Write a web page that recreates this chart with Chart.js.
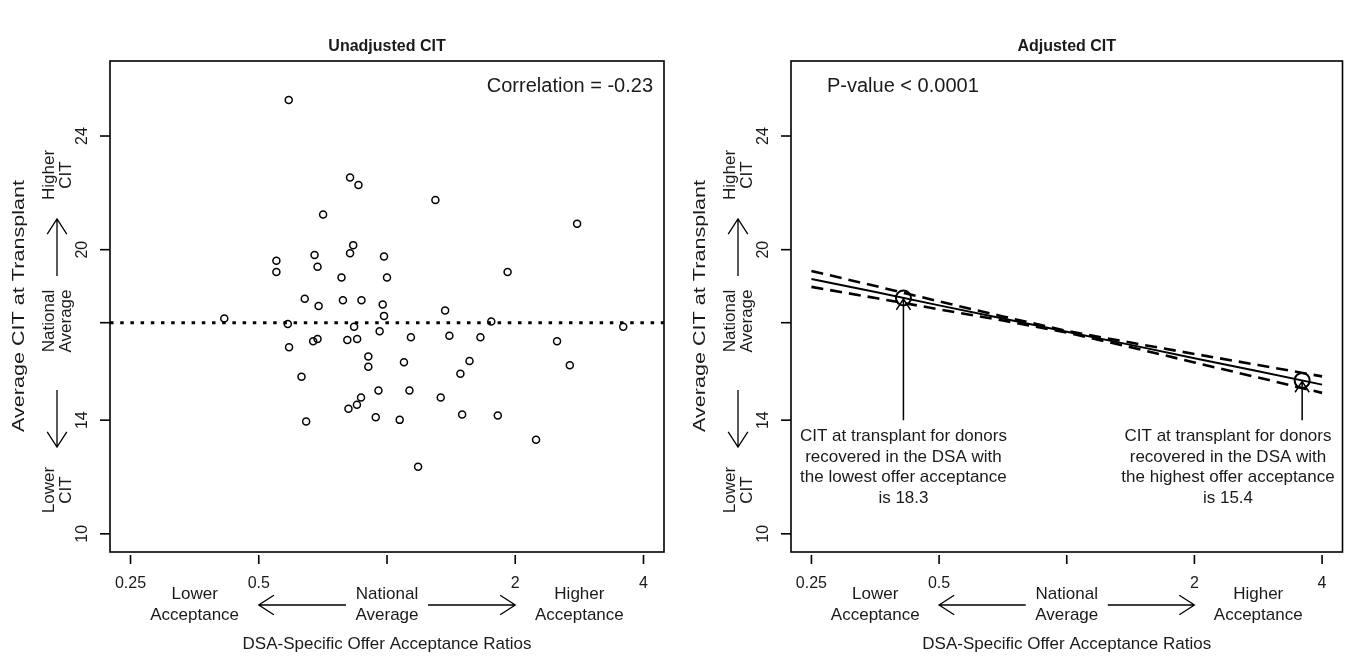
<!DOCTYPE html>
<html>
<head>
<meta charset="utf-8">
<script src="https://cdn.jsdelivr.net/npm/chart.js@4.4.1/dist/chart.umd.min.js"></script>
<style>
  html, body { margin: 0; padding: 0; background: #fff; }
  #wrap { position: relative; width: 1352px; height: 658px; overflow: hidden; }
  canvas { position: absolute; top: 0; }
  #left { left: 0; }
  #right { left: 681px; }
</style>
</head>
<body>
<div id="wrap">
  <canvas id="left" width="676" height="658"></canvas>
  <canvas id="right" width="671" height="658"></canvas>
</div>
<script>
// axis setup (R style: 4% padding around xlim 0.25-4 and ylim 10-26)
const xTicks = [0.25, 0.5, 1, 2, 4];
const xTickLabels = ['0.25', '0.5', '', '2', '4'];
const yTicks = [10, 14, 17.43, 20, 24];
const yTickLabels = ['10', '14', '', '20', '24'];
const xMin = Math.pow(2, -2.16), xMax = Math.pow(2, 2.16);
const yMin = 9.36, yMax = 26.64;
const nationalAvg = 17.43;

// unadjusted CIT per DSA
const ratioUnadj = [0.588, 0.819, 0.857, 1.299, 0.708, 2.794, 0.833, 0.819, 0.676, 0.984, 0.550, 0.687,
  0.550, 1.919, 0.782, 1.000, 0.641, 0.788, 0.871, 0.691, 0.977, 0.984, 1.369, 0.415,
  0.585, 0.837, 1.757, 3.585, 0.961, 0.671, 0.687, 0.807, 0.851, 1.138, 1.401, 1.657,
  0.589, 2.507, 0.904, 0.904, 1.096, 1.562, 1.487, 2.686, 0.630, 0.955, 1.129, 0.869,
  1.337, 0.850, 0.812, 1.501, 1.820, 0.941, 1.071, 0.646, 2.238, 1.183];
const citUnadj = [25.27, 22.54, 22.28, 21.75, 21.24, 20.91, 20.16, 19.87, 19.81, 19.76, 19.61, 19.40,
  19.21, 19.21, 19.02, 19.02, 18.27, 18.22, 18.22, 18.02, 18.07, 17.67, 17.86, 17.58,
  17.38, 17.29, 17.47, 17.29, 17.13, 16.78, 16.86, 16.82, 16.86, 16.92, 16.97, 16.92,
  16.57, 16.78, 16.24, 15.88, 16.04, 16.08, 15.63, 15.93, 15.53, 15.04, 15.04, 14.80,
  14.80, 14.54, 14.40, 14.20, 14.16, 14.10, 14.01, 13.95, 13.31, 12.36];

// adjusted CIT fit with confidence band
const fitRatio = [0.25, 0.354, 0.5, 0.707, 1, 1.414, 2, 2.828, 4];
const fitCit = [18.97, 18.51, 18.04, 17.58, 17.11, 16.65, 16.18, 15.72, 15.25];
const fitUpper = [19.25, 18.72, 18.18, 17.65, 17.14, 16.73, 16.33, 15.94, 15.54];
const fitLower = [18.69, 18.30, 17.90, 17.51, 17.08, 16.57, 16.03, 15.50, 14.96];

const extremeRatio = [0.412, 3.59];
const extremeCit = [18.3, 15.4];
const noteRatio = [0.412, 2.40];
const extremeNotes = [
  ['CIT at transplant for donors', 'recovered in the DSA with', 'the lowest offer acceptance', 'is 18.3'],
  ['CIT at transplant for donors', 'recovered in the DSA with', 'the highest offer acceptance', 'is 15.4']
];
const arrowFromCit = 14;
const noteTopCit = 13.42;

const FONT = "'Liberation Sans', Arial, Helvetica, sans-serif";
const INK = '#1a1a1a';

function pairs(xs, ys) {
  return xs.map((x, i) => ({ x: x, y: ys[i] }));
}

function arrow(ctx, x0, y0, x1, y1, len, ang) {
  const t = Math.atan2(y1 - y0, x1 - x0);
  ctx.beginPath();
  ctx.moveTo(x0, y0);
  ctx.lineTo(x1, y1);
  ctx.moveTo(x1 - len * Math.cos(t - ang), y1 - len * Math.sin(t - ang));
  ctx.lineTo(x1, y1);
  ctx.lineTo(x1 - len * Math.cos(t + ang), y1 - len * Math.sin(t + ang));
  ctx.stroke();
}

function text(ctx, s, x, y, font, align) {
  ctx.font = font;
  ctx.textAlign = align || 'center';
  ctx.textBaseline = 'middle';
  ctx.fillText(s, x, y);
}

// rotated text, optionally stretched along its length
function vText(ctx, s, x, y, font, stretch) {
  ctx.save();
  ctx.translate(x, y);
  ctx.rotate(-Math.PI / 2);
  if (stretch) ctx.scale(stretch, 1);
  text(ctx, s, 0, 0, font);
  ctx.restore();
}

function decor(panel) {
  return {
    id: 'decor',
    afterDraw(chart) {
      const ctx = chart.ctx, a = chart.chartArea;
      const xs = chart.scales.x, ys = chart.scales.y;
      const f16 = '16px ' + FONT, f17 = '17px ' + FONT;
      const ah = 33 * Math.PI / 180;
      ctx.save();
      ctx.strokeStyle = '#000';
      ctx.fillStyle = INK;
      ctx.lineWidth = 1.6;
      ctx.strokeRect(a.left, a.top, a.right - a.left, a.bottom - a.top);

      text(ctx, panel.title, (a.left + a.right) / 2, 47, 'bold 16px ' + FONT);

      // x axis ticks and labels
      xTicks.forEach((v, i) => {
        const px = xs.getPixelForValue(v);
        ctx.beginPath();
        ctx.moveTo(px, a.bottom + 3);
        ctx.lineTo(px, a.bottom + 12);
        ctx.stroke();
        if (xTickLabels[i]) text(ctx, xTickLabels[i], px, a.bottom + 32, f16);
      });
      // y axis ticks and labels
      yTicks.forEach((v, i) => {
        const py = ys.getPixelForValue(v);
        ctx.beginPath();
        ctx.moveTo(a.left - 10, py);
        ctx.lineTo(a.left, py);
        ctx.stroke();
        if (yTickLabels[i]) vText(ctx, yTickLabels[i], a.left - 27, py, f16);
      });

      // x margin annotations
      ctx.lineWidth = 1.3;
      const p05 = xs.getPixelForValue(0.5), p1 = xs.getPixelForValue(1), p2 = xs.getPixelForValue(2);
      const lowX = (xs.getPixelForValue(0.25) + p05) / 2;
      const highX = (p2 + xs.getPixelForValue(4)) / 2;
      text(ctx, 'Lower', lowX, a.bottom + 42, f17);
      text(ctx, 'Acceptance', lowX, a.bottom + 63, f17);
      text(ctx, 'National', p1, a.bottom + 42, f17);
      text(ctx, 'Average', p1, a.bottom + 63, f17);
      text(ctx, 'Higher', highX, a.bottom + 42, f17);
      text(ctx, 'Acceptance', highX, a.bottom + 63, f17);
      arrow(ctx, p1 - 41, a.bottom + 53, p05, a.bottom + 53, 18, ah);
      arrow(ctx, p1 + 41, a.bottom + 53, p2, a.bottom + 53, 18, ah);
      text(ctx, 'DSA-Specific Offer Acceptance Ratios', (a.left + a.right) / 2, a.bottom + 92, f17);

      // y margin annotations
      const l1 = a.left - 61, l2 = a.left - 44, ax = a.left - 53;
      vText(ctx, 'Average CIT at Transplant', a.left - 91, 306, '17px ' + FONT, 1.27);
      vText(ctx, 'Higher', l1, 175, f17);
      vText(ctx, 'CIT', l2, 175, f17);
      arrow(ctx, ax, 276, ax, 219, 18, ah);
      vText(ctx, 'National', l1, 321, f17);
      vText(ctx, 'Average', l2, 321, f17);
      arrow(ctx, ax, 390, ax, 447, 18, ah);
      vText(ctx, 'Lower', l1, 490, f17);
      vText(ctx, 'CIT', l2, 490, f17);

      // corner statistic
      if (panel.cornerAlign === 'right') {
        text(ctx, panel.corner, a.right - 11, 86, '20px ' + FONT, 'right');
      } else {
        text(ctx, panel.corner, a.left + 36, 86, '20px ' + FONT, 'left');
      }

      // callouts for extreme DSAs
      if (panel.notes) {
        ctx.lineWidth = 1.5;
        extremeRatio.forEach((r, i) => {
          const px = xs.getPixelForValue(r);
          arrow(ctx, px, ys.getPixelForValue(arrowFromCit), px, ys.getPixelForValue(extremeCit[i]) + 1, 13, ah);
          const nx = xs.getPixelForValue(noteRatio[i]);
          const top = ys.getPixelForValue(noteTopCit);
          extremeNotes[i].forEach((s, k) => text(ctx, s, nx, top + k * 20.5, f17));
        });
      }
      ctx.restore();
    }
  };
}

function baseOptions(padRight) {
  return {
    responsive: false,
    animation: false,
    layout: { padding: { top: 61, right: padRight, left: 0, bottom: 0 } },
    plugins: { legend: { display: false }, tooltip: { enabled: false } },
    scales: {
      x: {
        type: 'logarithmic', min: xMin, max: xMax,
        grid: { display: false }, border: { display: false }, ticks: { display: false },
        afterFit: s => { s.height = 106; }
      },
      y: {
        type: 'linear', min: yMin, max: yMax,
        grid: { display: false }, border: { display: false }, ticks: { display: false },
        afterFit: s => { s.width = 110; }
      }
    }
  };
}

new Chart(document.getElementById('left').getContext('2d'), {
  type: 'scatter',
  data: {
    datasets: [{
      data: pairs(ratioUnadj, citUnadj),
      pointStyle: 'circle',
      pointRadius: 3.5,
      pointBorderWidth: 1.5,
      pointBorderColor: '#000',
      pointBackgroundColor: 'rgba(0,0,0,0)'
    }, {
      data: [{ x: xMin, y: nationalAvg }, { x: xMax, y: nationalAvg }],
      showLine: true,
      borderColor: '#000',
      borderWidth: 3,
      borderDash: [3.5, 6.7],
      borderCapStyle: 'butt',
      pointRadius: 0
    }]
  },
  options: baseOptions(12),
  plugins: [decor({ title: 'Unadjusted CIT', corner: 'Correlation = -0.23', cornerAlign: 'right' })]
});

const dashBand = {
  showLine: true, borderColor: '#000', borderWidth: 2.6,
  borderDash: [12, 7], borderCapStyle: 'butt', pointRadius: 0
};

new Chart(document.getElementById('right').getContext('2d'), {
  type: 'scatter',
  data: {
    datasets: [
      Object.assign({ data: pairs(fitRatio, fitUpper) }, dashBand),
      Object.assign({ data: pairs(fitRatio, fitLower) }, dashBand),
      {
        data: pairs(fitRatio, fitCit),
        showLine: true, borderColor: '#000', borderWidth: 2, pointRadius: 0
      },
      {
        data: pairs(extremeRatio, extremeCit),
        pointStyle: 'circle', pointRadius: 7.5, pointBorderWidth: 2,
        pointBorderColor: '#000', pointBackgroundColor: 'rgba(0,0,0,0)'
      }
    ]
  },
  options: baseOptions(7),
  plugins: [decor({ title: 'Adjusted CIT', corner: 'P-value < 0.0001', cornerAlign: 'left', notes: true })]
});
</script>
</body>
</html>
